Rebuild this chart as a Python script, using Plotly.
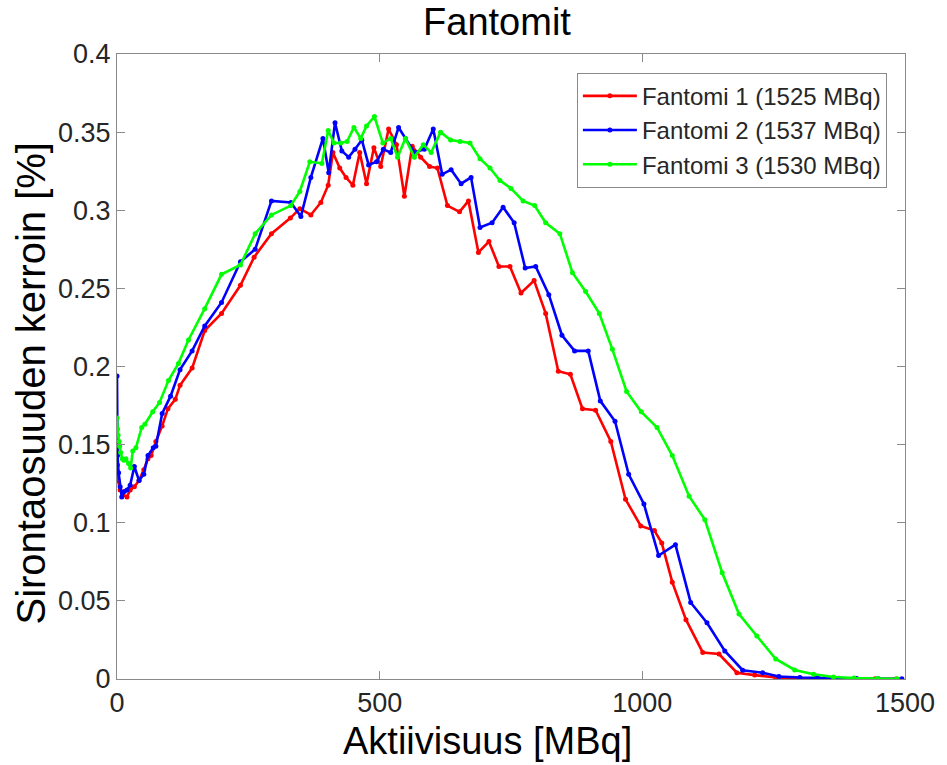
import plotly.graph_objects as go

# ---- data ----
x_red = [0, 1, 2, 6, 11, 19, 25, 33, 42, 51, 59, 65, 74, 86, 97, 111, 120, 143, 167, 199,
         235, 261, 294, 330, 348, 369, 388, 402, 411, 424, 436, 449, 462, 475, 489, 502, 517, 532, 547, 562,
         578, 595, 610, 629, 652, 669, 688, 708, 727, 748, 769, 794, 816, 840, 863, 886, 911, 940, 968, 997,
         1023, 1037, 1057, 1083, 1115, 1146, 1180, 1214, 1254, 1288, 1328, 1368, 1403, 1443, 1483]
y_red = [0.153, 0.137, 0.127, 0.121, 0.118, 0.1165, 0.121, 0.123, 0.127, 0.134, 0.141, 0.143, 0.152, 0.162, 0.173, 0.179, 0.188, 0.199, 0.223, 0.234,
         0.252, 0.270, 0.285, 0.295, 0.301, 0.297, 0.305, 0.316, 0.337, 0.327, 0.321, 0.316, 0.337, 0.317, 0.340, 0.328, 0.352, 0.342, 0.309, 0.341,
         0.334, 0.328, 0.327, 0.303, 0.299, 0.306, 0.273, 0.280, 0.264, 0.264, 0.247, 0.255, 0.234, 0.197, 0.195, 0.173, 0.172, 0.152, 0.115, 0.098,
         0.095, 0.087, 0.062, 0.038, 0.017, 0.016, 0.004, 0.0025, 0.001, 0.0005, 0.0003, 0.0002, 0.0001, 0.0001, 0.0]

x_blue = [0, 1, 3, 6, 9, 14, 19, 25, 33, 42, 51, 59, 69, 74, 86, 102, 120, 143, 167, 199,
          235, 263, 294, 331, 350, 369, 392, 403, 415, 428, 441, 453, 466, 479, 494, 507, 521, 536, 549, 566,
          585, 602, 619, 636, 655, 674, 691, 714, 735, 756, 777, 797, 822, 847, 871, 897, 920, 948, 974, 1003,
          1031, 1063, 1092, 1123, 1157, 1191, 1229, 1260, 1300, 1334, 1374, 1408, 1449, 1494]
y_blue = [0.194, 0.143, 0.132, 0.123, 0.1165, 0.120, 0.121, 0.124, 0.136, 0.127, 0.131, 0.143, 0.148, 0.149, 0.170, 0.181, 0.198, 0.210, 0.226, 0.241,
          0.267, 0.275, 0.306, 0.305, 0.296, 0.321, 0.346, 0.324, 0.356, 0.338, 0.334, 0.339, 0.345, 0.329, 0.331, 0.339, 0.337, 0.353, 0.346, 0.337,
          0.339, 0.352, 0.323, 0.326, 0.317, 0.321, 0.289, 0.292, 0.302, 0.292, 0.263, 0.264, 0.246, 0.220, 0.210, 0.210, 0.178, 0.165, 0.131, 0.112,
          0.079, 0.086, 0.049, 0.036, 0.018, 0.0056, 0.004, 0.0016, 0.001, 0.0007, 0.0005, 0.0003, 0.0002, 0.0001]

x_green = [0, 1, 2, 4, 5, 7, 10, 13, 17, 22, 26, 30, 36, 47, 53, 68, 81, 98, 117, 136,
           167, 199, 235, 263, 294, 331, 348, 367, 390, 402, 413, 426, 438, 451, 464, 475, 490, 506, 521, 534,
           549, 566, 583, 598, 616, 635, 653, 672, 691, 710, 729, 750, 773, 795, 816, 843, 867, 892, 918, 943,
           970, 998, 1028, 1057, 1089, 1119, 1152, 1184, 1218, 1254, 1290, 1326, 1364, 1403, 1447, 1485]
y_green = [0.167, 0.160, 0.156, 0.152, 0.149, 0.145, 0.141, 0.140, 0.141, 0.138, 0.135, 0.146, 0.148, 0.161, 0.163, 0.171, 0.177, 0.191, 0.202, 0.217,
           0.237, 0.259, 0.265, 0.285, 0.297, 0.303, 0.312, 0.331, 0.330, 0.351, 0.343, 0.343, 0.344, 0.353, 0.346, 0.354, 0.360, 0.343, 0.346, 0.334,
           0.346, 0.334, 0.342, 0.337, 0.350, 0.345, 0.344, 0.343, 0.333, 0.327, 0.319, 0.314, 0.306, 0.303, 0.292, 0.285, 0.260, 0.248, 0.234, 0.211,
           0.184, 0.171, 0.161, 0.143, 0.117, 0.102, 0.068, 0.0416, 0.0275, 0.0128, 0.0058, 0.003, 0.0013, 0.0006, 0.0003, 0.0002]

series_names = ["Fantomi 1 (1525 MBq)", "Fantomi 2 (1537 MBq)", "Fantomi 3 (1530 MBq)"]
x_ticks = [0, 500, 1000, 1500]
y_ticks = [0, 0.05, 0.1, 0.15, 0.2, 0.25, 0.3, 0.35, 0.4]
y_tick_labels = ["0", "0.05", "0.1", "0.15", "0.2", "0.25", "0.3", "0.35", "0.4"]

FONT = "Arial, Liberation Sans, sans-serif"
TXT = "#262626"
AX = "#8a8a8a"

fig = go.Figure()
for name, xs, ys, col in [
    (series_names[0], x_red, y_red, "#ff0000"),
    (series_names[1], x_blue, y_blue, "#0000ff"),
    (series_names[2], x_green, y_green, "#00ff00"),
]:
    fig.add_trace(go.Scatter(x=xs, y=ys, name=name, mode="lines+markers",
                             line=dict(color=col, width=2.6),
                             marker=dict(color=col, size=5)))

axis_common = dict(showline=True, linecolor=AX, linewidth=1, mirror="ticks",
                   ticks="inside", ticklen=8, tickcolor=AX, tickwidth=1,
                   showgrid=False, zeroline=False,
                   tickfont=dict(family=FONT, size=27, color=TXT))

fig.update_layout(
    width=947, height=765,
    margin=dict(l=117, r=37, t=54, b=86),
    paper_bgcolor="white", plot_bgcolor="white",
    title=dict(text="Fantomit", x=497 / 947, xanchor="center", y=1 - 22 / 765, yanchor="middle",
               yref="container", xref="container", font=dict(family=FONT, size=38, color="black")),
    xaxis=dict(range=[0, 1500], tickvals=x_ticks, **axis_common),
    yaxis=dict(range=[0, 0.4], tickvals=y_ticks, ticktext=y_tick_labels, **axis_common),
    legend=dict(x=0.977, y=0.97, xanchor="right", yanchor="top",
                bordercolor=AX, borderwidth=1, bgcolor="white",
                font=dict(family=FONT, size=24, color=TXT), itemwidth=54,
                tracegroupgap=0),
    showlegend=True,
    annotations=[
        dict(text="Aktiivisuus [MBq]", xref="paper", yref="paper",
             x=(490 - 117) / 793, y=(679 - 741) / 625, xanchor="center", yanchor="middle",
             showarrow=False, font=dict(family=FONT, size=38, color="black")),
        dict(text="Sirontaosuuden kerroin [%]", xref="paper", yref="paper", textangle=-90,
             x=(30 - 117) / 793, y=(679 - 383) / 625, xanchor="center", yanchor="middle",
             showarrow=False, font=dict(family=FONT, size=40, color="black")),
    ],
)

fig.write_html("out.html")
